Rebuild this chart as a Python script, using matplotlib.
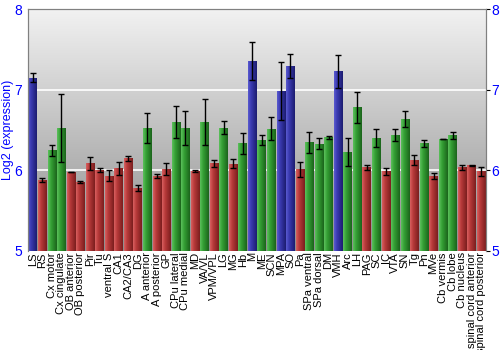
import numpy as np
import matplotlib
matplotlib.use("Agg")
from matplotlib import pyplot as plt
from matplotlib.colors import LinearSegmentedColormap

regions = ["LS", "RS", "Cx motor", "Cx cingulate", "OB anterior", "OB posterior",
           "Pir", "Tu", "ventral S", "CA1", "CA2/CA3", "DG", "A anterior",
           "A posterior", "GP", "CPu lateral", "CPu medial", "MD", "VA/VL",
           "VPM/VPL", "LG", "MG", "Hb", "M", "ME", "SCN", "MPA", "SO", "Pa",
           "SPa ventral", "SPa dorsal", "DM", "VMH", "Arc", "LH", "PAG", "SC",
           "IC", "VTA", "SN", "Tg", "Pn", "MVe", "Cb vermis", "Cb lobe",
           "Cb nucleus", "spinal cord anterior", "spinal cord posterior"]
values = [7.15, 5.88, 6.25, 6.525, 5.98, 5.855,
          6.09, 6.005, 5.935, 6.025, 6.15, 5.777, 6.525,
          5.93, 6.017, 6.6, 6.525, 5.99, 6.6,
          6.087, 6.53, 6.083, 6.335, 7.36, 6.376, 6.517, 6.98, 7.293, 6.012,
          6.347, 6.33, 6.41, 7.227, 6.227, 6.78, 6.037, 6.397,
          5.988, 6.438, 6.636, 6.128, 6.335, 5.93, 6.39, 6.434,
          6.037, 6.06, 5.988]
errors = [0.055, 0.03, 0.07, 0.42, 0.005, 0.015,
          0.08, 0.03, 0.07, 0.08, 0.03, 0.035, 0.19,
          0.03, 0.07, 0.195, 0.21, 0.015, 0.28,
          0.045, 0.08, 0.055, 0.13, 0.235, 0.066, 0.145, 0.36, 0.153, 0.095,
          0.13, 0.066, 0.02, 0.2, 0.175, 0.19, 0.03, 0.11,
          0.04, 0.08, 0.1, 0.068, 0.04, 0.035, 0.004, 0.04,
          0.03, 0.003, 0.055]
# b = blue, g = green, r = red
groups = ["b", "r", "g", "g", "r", "r", "r", "r", "r", "r", "r", "r", "g",
          "r", "r", "g", "g", "r", "g", "r", "g", "r", "g", "b", "g", "g", "b",
          "b", "r", "g", "g", "g", "b", "g", "g", "r", "g", "r", "g", "g", "r",
          "g", "r", "g", "g", "r", "r", "r"]
yticks = [5, 6, 7, 8]

shades = {
    "b": ["#5a5ad0", "#3a3ab0", "#1c1c70"],
    "g": ["#5cc05c", "#35a035", "#1b641b"],
    "r": ["#d86060", "#b83a3a", "#7a1e1e"],
}
font = "Liberation Sans"

fig = plt.figure(figsize=(5, 3.5), dpi=100)
ax = fig.add_axes([0.056, 0.283, 0.916, 0.691])

x = np.arange(len(regions))
n = len(regions)

# background gradient
bg = LinearSegmentedColormap.from_list("bg", ["#8e8e8e", "#f2f2f2"])
ax.imshow(np.linspace(0, 1, 256).reshape(-1, 1), cmap=bg, aspect="auto",
          extent=[-0.5, n - 0.5, 5, 8], origin="lower", zorder=0)

for yv in yticks[1:-1]:
    ax.axhline(yv, color="white", lw=1.2, zorder=1)

bars = ax.bar(x, [v - 5 for v in values], bottom=5, width=0.9,
              color="none", edgecolor="none", zorder=2)
grad = np.linspace(0, 1, 64).reshape(1, -1)
for b, g in zip(bars, groups):
    cmap = LinearSegmentedColormap.from_list(
        g, [(0, shades[g][0]), (0.35, shades[g][1]), (1, shades[g][2])])
    x0, y0 = b.get_x(), b.get_y()
    im = ax.imshow(grad, cmap=cmap, aspect="auto", zorder=2,
                   extent=[x0, x0 + b.get_width(), y0, y0 + b.get_height()])
    im.set_clip_path(b)

ax.errorbar(x, values, yerr=errors, fmt="none", ecolor="black", elinewidth=1,
            capsize=2, capthick=1, zorder=3)

ax.set_xlim(-0.5, n - 0.5)
ax.set_ylim(5, 8)
ax.set_xticks(x)
ax.set_xticklabels(regions, rotation=90, fontsize=8, family=font)
ax.tick_params(axis="x", length=0, pad=1)
ax.set_yticks(yticks)
ax.set_yticklabels([str(t) for t in yticks], family=font)
ax.tick_params(axis="y", labelsize=10, labelcolor="blue", length=0, pad=4)
ax.set_ylabel("Log2 (expression)", color="blue", fontsize=9, family=font)
ax.yaxis.set_label_coords(-0.031, 0.5)

# right-hand copy of the scale
ax2 = ax.twinx()
ax2.set_ylim(5, 8)
ax2.set_yticks(yticks)
ax2.set_yticklabels([str(t) for t in yticks], family=font)
ax2.tick_params(axis="y", labelsize=10, labelcolor="blue", length=3,
                color="black", pad=1)

for a in (ax, ax2):
    for s in a.spines.values():
        s.set_color("#808080")
    a.spines["bottom"].set_visible(False)

fig.savefig("out.png", dpi=100)
